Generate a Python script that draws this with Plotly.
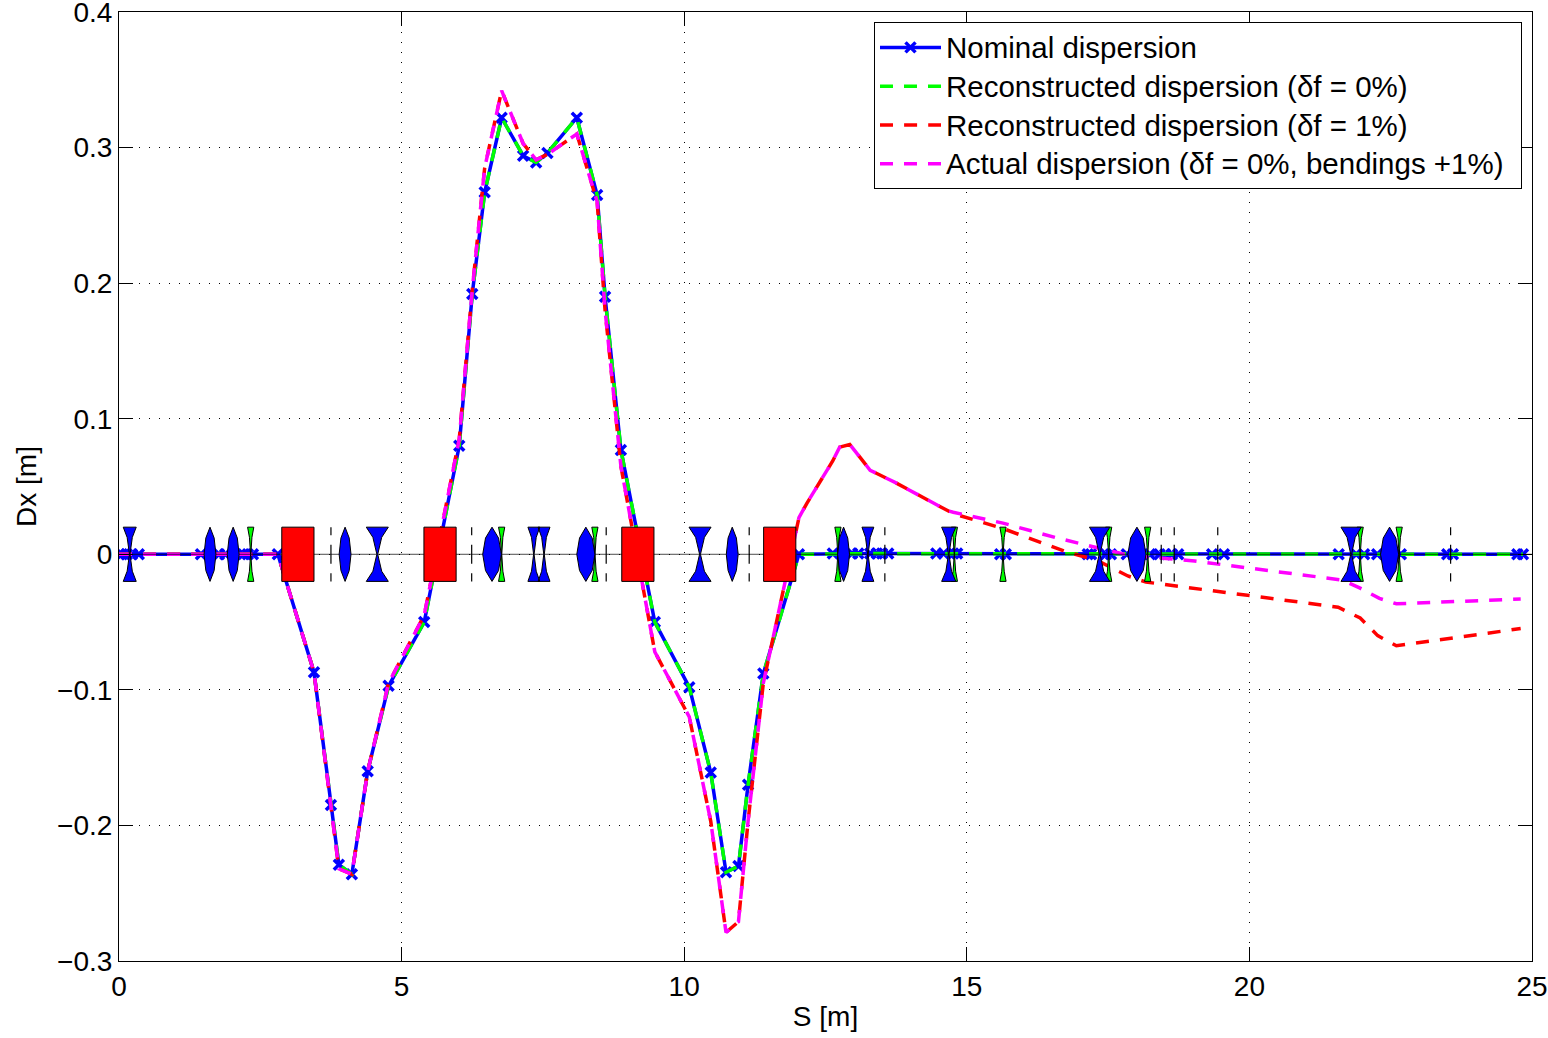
import plotly.graph_objects as go

# Beam line curves
nominal_s = [0,0.05,0.14,0.23,0.35,1.45,1.77,1.88,2.2,2.28,2.37,2.81,3.45,3.75,3.89,4.12,4.4,4.77,5.4,6.02,6.25,6.47,6.77,7.15,7.38,7.58,8.1,8.46,8.6,8.88,9.48,10.09,10.47,10.74,10.96,11.13,11.4,12.03,12.63,12.97,13.08,13.29,13.41,13.5,13.61,14.46,14.59,14.76,14.83,15.59,15.69,17.14,17.2,17.46,17.55,17.83,18.24,18.41,18.51,18.63,18.74,19.34,19.55,21.58,21.89,22.03,22.26,22.68,23.5,23.6,24.74,24.84]
nominal_y = [0,0,0,0,0,0,0,0,0,0,0,0,-0.087,-0.185,-0.229,-0.236,-0.16,-0.097,-0.05,0.08,0.192,0.267,0.322,0.294,0.289,0.296,0.322,0.265,0.19,0.077,-0.05,-0.098,-0.161,-0.2345,-0.23,-0.17,-0.088,0,0.0005,0.0005,0.0005,0.0005,0.0005,0.0005,0.0005,0.0005,0.0005,0.0005,0.0005,0,0,0,0,0,0,0,0,0,0,0,0,0,0,0,0,0,0,0,0,0,0,0]

main_s = [0,2.81,3.45,3.75,3.89,4.12,4.4,4.77,5.4,6.02,6.25,6.47,6.77,7.15,7.38,7.58,8.1,8.46,8.6,8.88,9.48,10.09,10.47,10.74,10.96,11.13,11.4,12.03,12.17,12.63,12.75,12.93,13.29,13.73,14.67]
main_y = [0,0,-0.087,-0.185,-0.232,-0.236,-0.16,-0.095,-0.045,0.085,0.195,0.285,0.342,0.303,0.291,0.295,0.31,0.26,0.18,0.065,-0.072,-0.12,-0.197,-0.279,-0.271,-0.197,-0.095,0.027,0.0376,0.069,0.079,0.081,0.062,0.053,0.032]

red_tail_s = [14.76,15.64,16.75,17.3,17.85,18.17,21.57,21.96,22.27,22.6,24.8]
red_tail_y = [0.03,0.019,0.002,-0.0044,-0.016,-0.0205,-0.039,-0.047,-0.06,-0.0675,-0.0548]
mag_tail_s = [14.76,15.64,16.6,17.23,17.86,19.03,21.64,21.96,22.3,22.6,24.8]
mag_tail_y = [0.031,0.023,0.012,0.0054,-0.0007,-0.005,-0.019,-0.025,-0.0325,-0.0365,-0.033]

# Lattice elements: centre position, half width [m]
dipole_s = [3.165,5.68,9.18,11.69]
dipole_w = [0.285,0.285,0.285,0.285]
lens_s = [1.61,2.02,4.0,6.6,8.26,10.85,12.82,18.01,22.48]
lens_w = [0.105,0.105,0.105,0.165,0.16,0.105,0.105,0.16,0.16]
bow_s = [0.19,4.57,7.34,7.52,10.28,13.25,14.68,17.35,21.8]
bow_w = [0.115,0.195,0.105,0.105,0.195,0.105,0.125,0.18,0.18]
green_bow_s = [2.33,6.77,8.42,12.72,14.78,15.64,17.51,18.2,21.96,22.65]
green_bow_w = [0.055]*10
thin_s = [3.75,6.24,8.62,11.15,13.55,18.44,18.67,19.44,23.56]

HEIGHT = 0.02

def rects(s, w):
    xs, ys = [], []
    for c, h in zip(s, w):
        xs += [c-h, c+h, c+h, c-h, c-h, None]
        ys += [-HEIGHT, -HEIGHT, HEIGHT, HEIGHT, -HEIGHT, None]
    return xs, ys

def lenses(s, w):
    xs, ys = [], []
    for c, h in zip(s, w):
        xs += [c, c+0.7*h, c+h, c+0.7*h, c, c-0.7*h, c-h, c-0.7*h, c, None]
        ys += [HEIGHT, 0.012, 0, -0.012, -HEIGHT, -0.012, 0, 0.012, HEIGHT, None]
    return xs, ys

def bows(s, w):
    xs, ys = [], []
    for c, h in zip(s, w):
        xs += [c-h, c+h, c+0.4*h, c+0.04*h, c+0.4*h, c+h, c-h, c-0.4*h, c-0.04*h, c-0.4*h, c-h, None]
        ys += [HEIGHT, HEIGHT, 0.0125, 0, -0.0125, -HEIGHT, -HEIGHT, -0.0125, 0, 0.0125, HEIGHT, None]
    return xs, ys

def thins(s):
    xs, ys = [], []
    for c in s:
        for a, b in [(0.02, 0.014), (0.007, -0.007), (-0.014, -0.02)]:
            xs += [c, c, None]
            ys += [a, b, None]
    return xs, ys

BLUE, GREEN, RED, MAG = "#0000ff", "#00ff00", "#ff0000", "#ff00ff"

def label(text, pad=""):
    return f'<span style="font-size:29.5px">{text}</span>' + (f'<span style="font-size:21.5px">{pad}</span>' if pad else "")

fig = go.Figure()
fig.add_trace(go.Scatter(x=nominal_s, y=nominal_y, name=label("Nominal dispersion"),
    mode="lines+markers", line=dict(color=BLUE, width=3.5),
    marker=dict(symbol="x-thin", size=10, color=BLUE, line=dict(color=BLUE, width=3.5))))
fig.add_trace(go.Scatter(x=nominal_s, y=nominal_y, name=label("Reconstructed dispersion (δf = 0%)"),
    mode="lines", line=dict(color=GREEN, width=3.5, dash="13px,11px")))
fig.add_trace(go.Scatter(x=main_s+red_tail_s, y=main_y+red_tail_y, name=label("Reconstructed dispersion (δf = 1%)"),
    mode="lines", line=dict(color=RED, width=3.5, dash="13px,11.1px")))
fig.add_trace(go.Scatter(x=main_s+mag_tail_s, y=main_y+mag_tail_y, name=label("Actual dispersion (δf = 0%, bendings +1%)", "\u00a0\u00a0"),
    mode="lines", line=dict(color=MAG, width=3.5, dash="13px,11px")))

# beam axis
fig.add_trace(go.Scatter(x=[0, 25], y=[0, 0], mode="lines", showlegend=False, hoverinfo="skip",
    line=dict(color="rgba(0,0,0,0.7)", width=1)))

def poly(xy, fill):
    fig.add_trace(go.Scatter(x=xy[0], y=xy[1], mode="lines", fill="toself", fillcolor=fill,
        line=dict(color="black", width=1), showlegend=False, hoverinfo="skip"))

poly(bows(green_bow_s, green_bow_w), GREEN)
poly(bows(bow_s, bow_w), BLUE)
poly(lenses(lens_s, lens_w), BLUE)
poly(rects(dipole_s, dipole_w), RED)
t = thins(thin_s)
fig.add_trace(go.Scatter(x=t[0], y=t[1], mode="lines", line=dict(color="black", width=1.2),
    showlegend=False, hoverinfo="skip"))

axis = dict(showline=True, linecolor="black", linewidth=1, mirror="ticks", ticks="inside", ticklen=14,
            tickcolor="black", tickwidth=1, showgrid=True, gridcolor="black", griddash="1px,9px",
            gridwidth=1, zeroline=False, tickfont=dict(size=28, color="black"),
            automargin=False, ticklabeloverflow="allow")

fig.update_xaxes(range=[0, 25], tickvals=[0,5,10,15,20,25], ticktext=["0","5","10","15","20","25"],
                 title=dict(text="S [m]", font=dict(size=28, color="black"), standoff=5), **axis)
fig.update_yaxes(range=[-0.3, 0.4], tickvals=[-0.3,-0.2,-0.1,0,0.1,0.2,0.3,0.4],
                 ticktext=["−0.3","−0.2","−0.1","0","0.1","0.2","0.3","0.4"],
                 title=dict(text="Dx [m]", font=dict(size=28, color="black"), standoff=12), **axis)

fig.update_layout(width=1548, height=1038, margin=dict(l=119, r=16, t=12, b=77),
    paper_bgcolor="white", plot_bgcolor="white",
    font=dict(family="Liberation Sans, Arial, sans-serif", color="black"),
    legend=dict(x=1403/1413, xanchor="right", y=1-10/949, yanchor="top", bgcolor="white",
                bordercolor="black", borderwidth=1, font=dict(size=27.5, color="black"),
                itemwidth=61, traceorder="normal"))

fig.write_html("out.html", post_script="document.body.style.margin='0';", config={"displayModeBar": False})
